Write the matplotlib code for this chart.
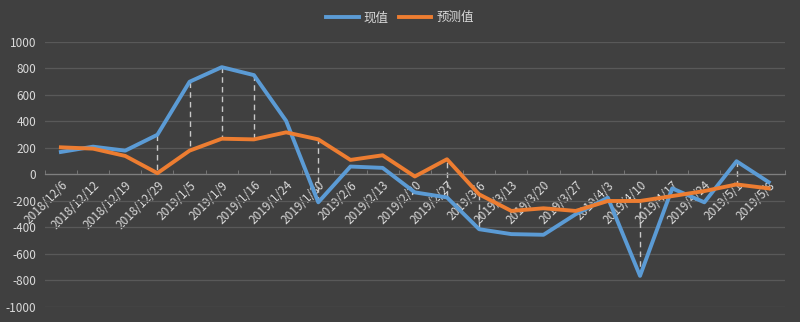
import matplotlib
matplotlib.use("Agg")
import matplotlib.pyplot as plt
import numpy as np

plt.rcParams['font.family'] = ['Noto Sans CJK SC', 'DejaVu Sans']

dates = ["2018/12/6", "2018/12/12", "2018/12/19", "2018/12/29", "2019/1/5", "2019/1/9",
         "2019/1/16", "2019/1/24", "2019/1/30", "2019/2/6", "2019/2/13", "2019/2/20",
         "2019/2/27", "2019/3/6", "2019/3/13", "2019/3/20", "2019/3/27", "2019/4/3",
         "2019/4/10", "2019/4/17", "2019/4/24", "2019/5/1", "2019/5/8"]
actual = [170, 210, 180, 300, 700, 810, 750, 405, -210, 60, 50, -135, -173, -413, -450,
          -455, -300, -175, -765, -105, -210, 100, -58]
forecast = [205, 195, 140, 10, 180, 270, 265, 318, 265, 110, 145, -15, 115, -150, -275,
            -255, -275, -200, -200, -163, -125, -75, -105]
dash_idx = [3, 4, 5, 6, 8, 12, 13, 18, 21]
yticks = [-1000, -800, -600, -400, -200, 0, 200, 400, 600, 800, 1000]

bg = '#404040'
txt = '#d9d9d9'
grid = '#595959'
blue = '#5B9BD5'
orange = '#ED7D31'

fig = plt.figure(figsize=(8, 3.22), dpi=100, facecolor=bg)
ax = fig.add_axes([0.056, 0.0466, 0.925, 0.823], facecolor=bg)

x = np.arange(len(dates))
for i in dash_idx:
    ax.plot([x[i], x[i]], [actual[i], forecast[i]], color='#c8c8c8', lw=1.0,
            ls=(0, (4, 3)), zorder=2)
ax.plot(x, actual, color=blue, lw=2.8, label='现值', zorder=3)
ax.plot(x, forecast, color=orange, lw=2.8, label='预测值', zorder=3)

ax.set_xlim(-0.5, len(dates) - 0.5)
ax.set_ylim(-1000, 1000)
ax.set_yticks(yticks)
ax.set_yticklabels([str(v) for v in yticks], color=txt, fontsize=8.5)
ax.tick_params(axis='y', length=0, pad=6)
ax.yaxis.grid(True, color=grid, lw=0.9)
ax.set_axisbelow(True)
for s in ['top', 'right', 'left']:
    ax.spines[s].set_visible(False)
ax.spines['bottom'].set_position(('data', 0))
ax.spines['bottom'].set_color('#7f7f7f')
ax.spines['bottom'].set_linewidth(0.9)

ax.set_xticks(x)
ax.set_xticklabels(dates, rotation=45, ha='right', rotation_mode='anchor',
                   color=txt, fontsize=8.5)
ax.tick_params(axis='x', length=0, pad=3)
ax.set_xticks(np.arange(-0.5, len(dates), 1), minor=True)
ax.tick_params(axis='x', which='minor', length=3, direction='in', color='#7f7f7f')

leg = fig.legend(loc='upper center', bbox_to_anchor=(0.5, 1.0), ncol=2, frameon=False,
                 fontsize=9, handlelength=2.6, columnspacing=0.8, handletextpad=0.4)
for t in leg.get_texts():
    t.set_color(txt)

fig.savefig('out.png', dpi=100, facecolor=bg)
